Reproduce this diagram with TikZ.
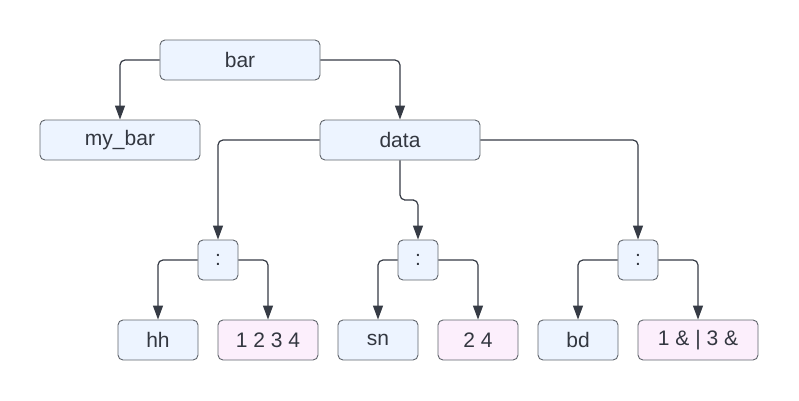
\documentclass[tikz,border=0pt]{standalone}
\usepackage{fontspec}
\setmainfont{Liberation Sans}
\usetikzlibrary{arrows.meta}
\definecolor{boxblue}{HTML}{EDF4FF}
\definecolor{boxpink}{HTML}{FCEFFC}
\definecolor{boxline}{HTML}{60656C}
\definecolor{arrline}{HTML}{363B45}
\definecolor{txt}{HTML}{333740}
\tikzset{
  box/.style={draw=boxline, line width=0.9pt, rounded corners=5pt, fill=boxblue,
    minimum height=40pt, minimum width=80pt, inner sep=0pt, text=txt,
    font=\fontsize{21}{25}\selectfont},
  val/.style={box, fill=boxpink},
  link/.style={draw=arrline, line width=1.2pt, rounded corners=5pt,
    -{Triangle[length=14pt,width=10pt]}}
}
\begin{document}
\begin{tikzpicture}[x=1pt,y=-1pt]
\useasboundingbox (0,0) rectangle (799,400); % поле рисунка

\node[box, minimum width=160pt] (bar) at (240,60) {bar};
\node[box, minimum width=160pt] (mybar) at (120,140) {my\_bar};
\node[box, minimum width=160pt] (data) at (400,140) {data};

\node[box, minimum width=40pt] (c1) at (218,260) {:};
\node[box, minimum width=40pt] (c2) at (418,260) {:};
\node[box, minimum width=40pt] (c3) at (638,260) {:};

\node[box] (hh) at (158,340) {hh};
\node[val, minimum width=100pt] (v1) at (268,340) {1 2 3 4};
\node[box] (sn) at (378,340) {sn};
\node[val] (v2) at (478,340) {2 4};
\node[box] (bd) at (578,340) {bd};
\node[val, minimum width=120pt] (v3) at (698,340) {1 \& | 3 \&};

\coordinate (jog) at (409,200); % излом стрелки к c2

\draw[link] (bar.west) -| (mybar.north);
\draw[link] (bar.east) -| (data.north);
\draw[link] (data.west) -| (c1.north);
\draw[link] (data.south) |- (jog) -| (c2.north);
\draw[link] (data.east) -| (c3.north);
\draw[link] (c1.west) -| (hh.north);
\draw[link] (c1.east) -| (v1.north);
\draw[link] (c2.west) -| (sn.north);
\draw[link] (c2.east) -| (v2.north);
\draw[link] (c3.west) -| (bd.north);
\draw[link] (c3.east) -| (v3.north);

\end{tikzpicture}
\end{document}
